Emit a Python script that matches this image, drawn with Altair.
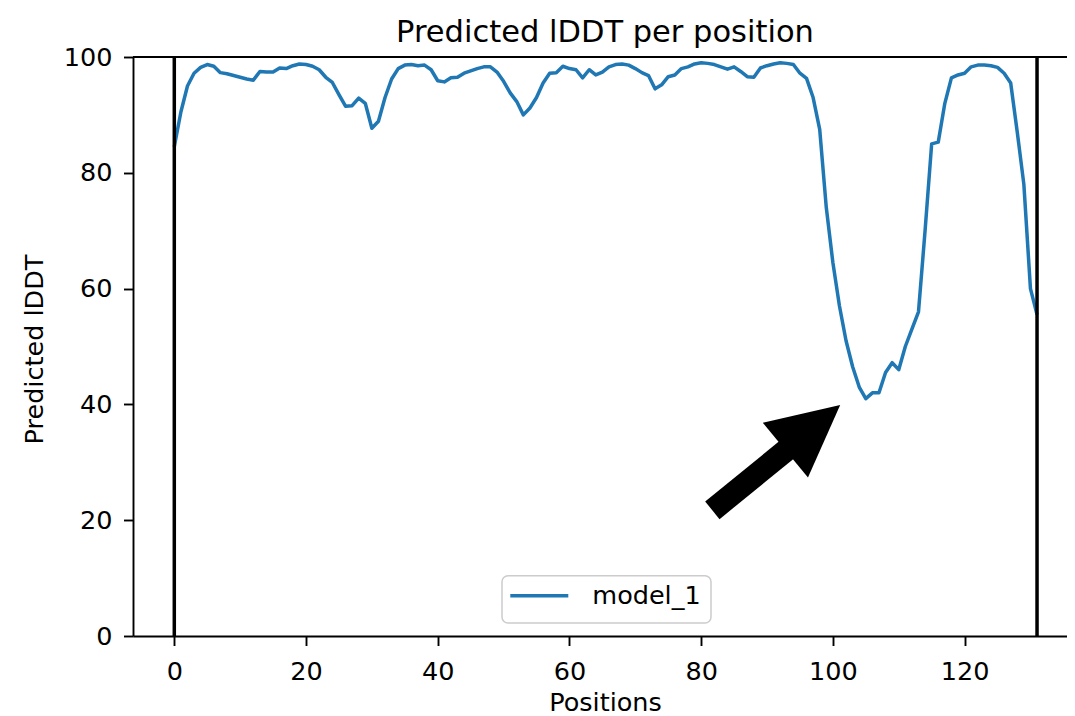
import altair as alt
import pandas as pd

# ---- data ----
positions = list(range(132))
plddt = [
    84.5, 90.5, 95.0, 97.2, 98.2, 98.7, 98.4, 97.3, 97.1, 96.8,
    96.5, 96.2, 96.0, 97.5, 97.4, 97.4, 98.1, 98.0, 98.5, 98.8,
    98.7, 98.4, 97.8, 96.5, 95.6, 93.5, 91.5, 91.6, 92.9, 92.0,
    87.7, 88.9, 93.0, 96.2, 98.0, 98.6, 98.7, 98.5, 98.6, 97.8,
    95.9, 95.7, 96.4, 96.5, 97.2, 97.6, 98.0, 98.3, 98.3, 97.4,
    95.8, 93.8, 92.3, 90.0, 91.2, 93.0, 95.5, 97.2, 97.3, 98.4,
    98.0, 97.8, 96.4, 97.8, 96.9, 97.4, 98.3, 98.7, 98.8, 98.6,
    98.0, 97.3, 96.8, 94.5, 95.2, 96.6, 96.9, 98.0, 98.3, 98.8,
    99.0, 98.9, 98.7, 98.3, 97.9, 98.3, 97.5, 96.6, 96.5, 98.1,
    98.5, 98.8, 99.0, 98.9, 98.7, 97.2, 96.3, 93.0, 87.5, 74.0,
    64.5, 57.0, 51.0, 46.5, 43.0, 41.0, 42.0, 42.0, 45.5, 47.2,
    46.0, 50.0, 53.0, 56.0, 70.0, 85.0, 85.3, 92.0, 96.4, 96.9,
    97.2, 98.3, 98.6, 98.6, 98.5, 98.2, 97.2, 95.5, 87.0, 78.0,
    60.0, 55.5,
]
series_name = "model_1"
vline_positions = [0, 131]
x_ticks = [0, 20, 40, 60, 80, 100, 120]
y_ticks = [0, 20, 40, 60, 80, 100]

# annotation arrow (data coordinates)
arrow_shaft_x = [81.7, 94.0]
arrow_shaft_y = [21.7, 33.1]
arrow_head_x = [96.95]
arrow_head_y = [36.0]

FONT = "DejaVu Sans"
BLUE = "#1f77b4"
FS = 25.5

df = pd.DataFrame({"pos": positions, "plddt": plddt, "series": [series_name] * len(positions)})
vdf = pd.DataFrame({"pos": vline_positions})
tdf = pd.DataFrame({"y": [100]})
shaft_df = pd.DataFrame({"x": [arrow_shaft_x[0]], "x2": [arrow_shaft_x[1]],
                         "y": [arrow_shaft_y[0]], "y2": [arrow_shaft_y[1]]})
head_df = pd.DataFrame({"x": arrow_head_x, "y": arrow_head_y})
box_df = pd.DataFrame({"k": [0]})

xscale = alt.Scale(domain=[-6.27, 135.55], nice=False, zero=False)
yscale = alt.Scale(domain=[0, 100], nice=False)

common_axis = dict(
    grid=False, domainColor="black", domainWidth=1.9, tickColor="black",
    tickWidth=1.9, tickSize=9.5, labelFont=FONT, labelFontSize=FS,
    labelColor="black", titleFont=FONT, titleFontSize=FS,
    titleFontWeight="normal", titleColor="black", labelFlush=False,
)

line = alt.Chart(df).mark_line(strokeWidth=3.5, strokeJoin="round").encode(
    x=alt.X("pos:Q", scale=xscale,
            axis=alt.Axis(values=x_ticks, title="Positions", labelPadding=13.5,
                          titleX=472, titleY=66, titleBaseline="middle",
                          **common_axis)),
    y=alt.Y("plddt:Q", scale=yscale,
            axis=alt.Axis(values=y_ticks, title="Predicted lDDT", labelPadding=11.5,
                          titleX=-99, titleY=292, titleBaseline="middle",
                          **common_axis)),
    color=alt.Color("series:N",
                    scale=alt.Scale(domain=[series_name], range=[BLUE]),
                    legend=alt.Legend(title=None, orient="none", legendX=375.3, legendY=507.7,
                                      symbolType="stroke", symbolSize=3364,
                                      symbolStrokeWidth=3.5, labelFont=FONT,
                                      labelFontSize=FS, labelColor="black",
                                      labelOffset=22, padding=0)),
)

legend_box = alt.Chart(box_df).mark_rect(
    fill="white", fillOpacity=0.8, stroke="#cccccc", strokeWidth=1.5, cornerRadius=6
).encode(
    x=alt.value(369), x2=alt.value(578), y=alt.value(518.7), y2=alt.value(566)
)

vrules = alt.Chart(vdf).mark_rule(color="black", strokeWidth=3.5).encode(
    x=alt.X("pos:Q", scale=xscale)
)

toprule = alt.Chart(tdf).mark_rule(color="black", strokeWidth=1.9).encode(
    y=alt.Y("y:Q", scale=yscale)
)

shaft = alt.Chart(shaft_df).mark_rule(color="black", strokeWidth=22.7, strokeCap="butt").encode(
    x=alt.X("x:Q", scale=xscale), x2="x2:Q",
    y=alt.Y("y:Q", scale=yscale), y2="y2:Q",
)

head = alt.Chart(head_df).mark_point(
    shape="M0,-1L1,1L-1,1Z", size=5041, angle=50.5, filled=True,
    color="black", opacity=1, strokeWidth=0,
).encode(
    x=alt.X("x:Q", scale=xscale),
    y=alt.Y("y:Q", scale=yscale),
)

chart = alt.layer(line, vrules, toprule, shaft, head, legend_box).properties(
    width=934, height=579,
    padding={"left": 125, "top": 49, "right": 0, "bottom": 80},
    autosize=alt.AutoSizeParams(type="none"),
    title=alt.TitleParams("Predicted lDDT per position", font=FONT, fontSize=30.5,
                          fontWeight="normal", color="black", anchor="middle",
                          offset=0, dx=5, dy=3),
).configure_view(stroke="transparent")

chart.save("out.html", embed_options={"renderer": "svg", "actions": False})
